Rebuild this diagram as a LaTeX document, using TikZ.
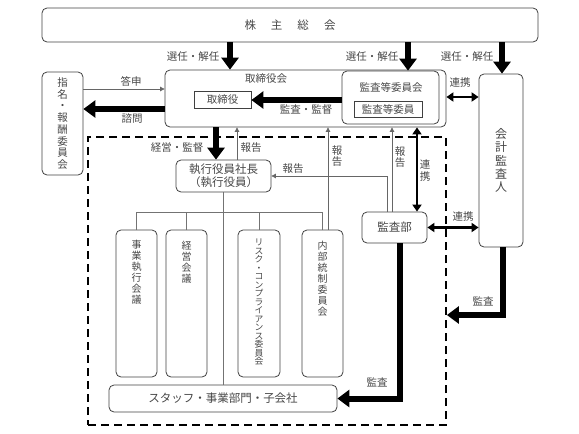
\documentclass[tikz,border=0pt]{standalone}
\usepackage{fontspec}
\setmainfont{Noto Sans CJK JP}
\usetikzlibrary{arrows.meta}
\begin{document}
\begin{tikzpicture}[x=1pt,y=-1pt,
 txt/.style={text=black!72, inner sep=0pt, font=\fontsize{10.5}{12}\selectfont},
 box/.style={draw=black!75, line width=0.8pt, rounded corners=5pt, inner sep=0pt, text=black!72, font=\fontsize{11}{13}\selectfont},
 sqbox/.style={draw=black!75, line width=0.8pt, inner sep=0pt, text=black!72, font=\fontsize{10.5}{12}\selectfont},
 bigarrow/.style={line width=6pt, -{Triangle[width=17pt,length=12pt]}},
 midarrow/.style={line width=2.5pt, {Triangle[width=9pt,length=7pt]}-{Triangle[width=9pt,length=7pt]}},
 thinarrow/.style={draw=black!60, line width=0.7pt, -{Triangle[width=4.5pt,length=4.5pt]}},
 thinline/.style={draw=black!55, line width=0.7pt},
 vtxt/.style={text=black!72, inner sep=0pt, align=center, font=\fontsize{10}{10.9}\selectfont},
 dashbox/.style={draw=black, line width=1.8pt, dash pattern=on 8pt off 5pt, inner sep=0pt}
]
\useasboundingbox (0,0) rectangle (579,434);

% coordinates
\coordinate (xa) at (230,0);
\coordinate (xb) at (408,0);
\coordinate (xc) at (502,0);
\coordinate (xk) at (216,0);
\coordinate (xh1) at (237,0);
\coordinate (xh2) at (328,0);
\coordinate (xh3) at (387,0);
\coordinate (xh4) at (392,0);
\coordinate (xr) at (417,0);
\coordinate (xm1) at (400,0);
\coordinate (xm2) at (503,0);
\coordinate (y89) at (0,89);
\coordinate (y109) at (0,109);
\coordinate (y100) at (0,100);
\coordinate (y97) at (0,97);
\coordinate (y315) at (0,315);
\coordinate (br) at (0,212);

% dashed area
\node[dashbox, minimum width=358pt, minimum height=288pt] (dash) at (267,281) {};

% boxes
\node[box, minimum width=496pt, minimum height=34pt, font=\fontsize{11.5}{14}\selectfont] (kabu) at (290,25) {株\hspace{15pt}主\hspace{15pt}総\hspace{15pt}会};
\node[box, minimum width=281pt, minimum height=57pt] (tori) at (305.5,98.5) {};
\node[txt] (torilbl) at (266,79) {取締役会};
\node[sqbox, minimum width=57pt, minimum height=17pt] (toriyaku) at (222.5,99.5) {取締役};
\node[box, minimum width=97pt, minimum height=53pt] (kansakai) at (390.5,97.5) {};
\node[txt] (kansalbl) at (391,87) {監査等委員会};
\node[sqbox, minimum width=68pt, minimum height=16pt] (kansain) at (388,109) {監査等委員};
\node[box, minimum width=44pt, minimum height=173pt, align=center, font=\fontsize{12}{13.4}\selectfont] (kaikei) at (501,160.5) {会\\計\\監\\査\\人};
\node[box, minimum width=41pt, minimum height=103pt, align=center, font=\fontsize{10.5}{11.75}\selectfont] (shimei) at (62.5,123.5) {指\\名\\・\\報\\酬\\委\\員\\会};
\node[box, minimum width=95pt, minimum height=32pt, align=center, font=\fontsize{11.5}{13}\selectfont] (shacho) at (223.5,176) {執行役員社長\\（執行役員）};
\node[box, minimum width=65pt, minimum height=31pt, font=\fontsize{11.5}{13}\selectfont] (kansabu) at (394.5,227.5) {監査部};

\node[box, minimum width=41pt, minimum height=147pt] (b1) at (136.5,303.5) {};
\node[box, minimum width=41pt, minimum height=147pt] (b2) at (186.5,303.5) {};
\node[box, minimum width=42pt, minimum height=147pt] (b3) at (259,303.5) {};
\node[box, minimum width=41pt, minimum height=147pt] (b4) at (322.5,303.5) {};
\node[vtxt, anchor=north] (t1) at (136.5,240) {事\\業\\執\\行\\会\\議};
\node[vtxt, anchor=north] (t2) at (186.5,241) {経\\営\\会\\議};
\node[vtxt, anchor=north, font=\fontsize{8.8}{8.5}\selectfont] (t3) at (259,239) {リ\\ス\\ク\\・\\コ\\ン\\プ\\ラ\\イ\\ア\\ン\\ス\\委\\員\\会};
\node[vtxt, anchor=north] (t4) at (322.5,241) {内\\部\\統\\制\\委\\員\\会};
\node[box, minimum width=228pt, minimum height=27pt, font=\fontsize{11.5}{13}\selectfont] (staff) at (223,398.5) {スタッフ・事業部門・子会社};

% tree
\draw[thinline] (shacho.south) -- (staff.north -| shacho.south);
\draw[thinline] (b1.north) -- (b1.north |- br) -- (b4.north |- br) -- (b4.north);
\draw[thinline] (b2.north) -- (b2.north |- br);
\draw[thinline] (b3.north) -- (b3.north |- br);

% thick arrows
\draw[bigarrow] (kabu.south -| xa) -- (tori.north -| xa);
\draw[bigarrow] (kabu.south -| xb) -- (kansakai.north -| xb);
\draw[bigarrow] (kabu.south -| xc) -- (kaikei.north -| xc);
\draw[bigarrow] (tori.west |- y109) -- (shimei.east |- y109);
\draw[bigarrow] (kansakai.west |- y100) -- (toriyaku.east |- y100);
\draw[bigarrow] (tori.south -| xk) -- (shacho.north -| xk);
\draw[bigarrow] (kansabu.south -| xm1) |- (staff.east);
\draw[bigarrow] (kaikei.south -| xm2) |- (dash.east |- y315);

% medium double arrows
\draw[midarrow] (tori.east |- y97) -- (kaikei.west |- y97);
\draw[midarrow] (kansabu.north -| xr) -- (tori.south -| xr);
\draw[midarrow] (kansabu.east) -- (kaikei.west |- kansabu.east);

% thin arrows
\draw[thinarrow] (shimei.east |- y89) -- (tori.west |- y89);
\draw[thinarrow] (shacho.north -| xh1) -- (tori.south -| xh1);
\draw[thinarrow] (b4.north -| xh2) -- (tori.south -| xh2);
\draw[thinarrow] (kansabu.north -| xh3) |- (shacho.east);
\draw[thinarrow] (kansabu.north -| xh4) -- (tori.south -| xh4);

% labels
\node[txt] (l1) at (193,57) {選任・解任};
\node[txt] (l2) at (372,57) {選任・解任};
\node[txt] (l3) at (467,57) {選任・解任};
\node[txt] (l4) at (131,81) {答申};
\node[txt] (l5) at (132,119) {諮問};
\node[txt] (l6) at (306,110) {監査・監督};
\node[txt] (l7) at (460,83) {連携};
\node[txt] (l8) at (177,148) {経営・監督};
\node[txt] (l9) at (251,148) {報告};
\node[txt, align=center, font=\fontsize{10.5}{11}\selectfont] (l10) at (337,156) {報\\告};
\node[txt] (l11) at (293,169) {報告};
\node[txt, align=center, font=\fontsize{10.5}{11}\selectfont] (l12) at (400,157) {報\\告};
\node[txt, align=center, font=\fontsize{10.5}{12}\selectfont] (l13) at (425,171) {連\\携};
\node[txt] (l14) at (463,217) {連携};
\node[txt] (l15) at (377,382) {監査};
\node[txt] (l16) at (483,301) {監査};
\end{tikzpicture}
\end{document}
